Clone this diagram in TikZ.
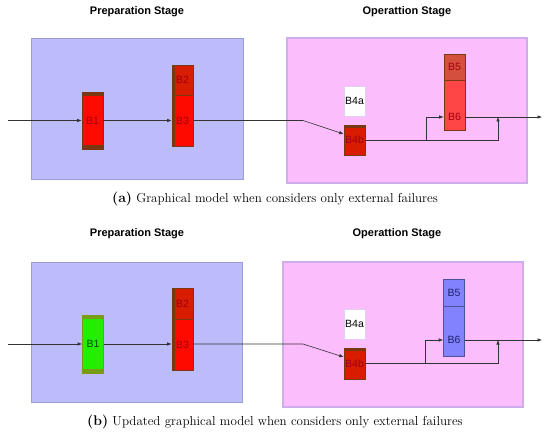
\documentclass[tikz,border=0pt]{standalone}
\usepackage{fontspec}
\setsansfont{Liberation Sans}
\usetikzlibrary{positioning,arrows.meta}

\definecolor{prepfill}{HTML}{BCBCFA}
\definecolor{prepline}{HTML}{9C9CD6}
\definecolor{opfill}{HTML}{FBBDFB}
\definecolor{opline}{HTML}{CDAEEA}
\definecolor{redfill}{HTML}{FF0A00}
\definecolor{darkredfill}{HTML}{D81C00}
\definecolor{brownline}{HTML}{7A3812}
\definecolor{redtext}{HTML}{A00010}
\definecolor{rustfill}{HTML}{D4503C}
\definecolor{pinkred}{HTML}{FF4646}
\definecolor{bluefill}{HTML}{8282FF}
\definecolor{blueline}{HTML}{5050A0}
\definecolor{bluetext}{HTML}{20206A}
\definecolor{greenfill}{HTML}{22EE00}
\definecolor{oliveband}{HTML}{7A9A18}
\definecolor{wirecol}{HTML}{333333}

\begin{document}
\begin{tikzpicture}[x=1pt, y=-1pt,
  stagetitle/.style={font=\sffamily\bfseries\fontsize{11}{13}\selectfont},
  prepbox/.style={draw=prepline, fill=prepfill, line width=0.8pt, inner sep=0pt},
  opbox/.style={draw=opline, fill=opfill, line width=1.5pt, inner sep=0pt},
  blockbox/.style={draw, line width=0.6pt, minimum width=21pt, inner sep=0pt,
    font=\sffamily\fontsize{10.5}{12}\selectfont},
  blocklabel/.style={inner sep=0pt, font=\sffamily\fontsize{10.5}{12}\selectfont},
  wire/.style={draw=wirecol, line width=0.6pt},
  tip/.style={-{Latex[length=4.5pt,width=3.5pt]}},
  caption/.style={font=\rmfamily\fontsize{13}{15}\selectfont}]
  \useasboundingbox (0,0) rectangle (550,436);

  % (a) only external failures
  \node[stagetitle] (a-prept) at (137,12) {Preparation Stage};
  \node[stagetitle] (a-opt) at (407,12) {Operattion Stage};
  \node[prepbox, minimum width=212pt, minimum height=141pt] (a-prep) at (137,108.5) {};
  \node[opbox, minimum width=240pt, minimum height=145pt] (a-op) at (407,110.5) {};

  \node[blockbox, fill=redfill, draw=brownline, minimum height=57pt, text=redtext] (a-b1) at (92.5,120.5) {B1};
  \fill[brownline] (a-b1.north west) rectangle ([yshift=-4pt]a-b1.north east);
  \fill[brownline] (a-b1.south west) rectangle ([yshift=4pt]a-b1.south east);
  \node[blockbox, fill=darkredfill, draw=brownline, minimum height=30pt, text=redtext] (a-b2) at (182.5,80) {B2};
  \node[blockbox, fill=redfill, draw=brownline, minimum height=51pt, text=redtext] (a-b3) at (182.5,120.5) {B3};
  \fill[brownline] (a-b2.north west) rectangle ([xshift=3pt]a-b3.south west);

  \node[blockbox, fill=white, draw=opline!60, minimum height=30pt] (a-b4a) at (354.5,101) {B4a};
  \node[blockbox, fill=darkredfill, draw=brownline, minimum height=30pt, text=redtext] (a-b4b) at (354.5,140) {B4b};
  \fill[brownline] (a-b4b.north west) rectangle ([yshift=-3pt]a-b4b.north east);
  \node[blockbox, fill=rustfill, draw=brownline, minimum height=26pt, text=redtext] (a-b5) at (454.5,67) {B5};
  \node[blockbox, fill=pinkred, draw=brownline, minimum height=50pt] (a-b6) at (454.5,105) {};
  \node[blocklabel, text=redtext] (a-b6t) at (454.5,117) {B6};

  \coordinate (a-in) at (8,120.5);
  \coordinate (a-bend) at (303,120.5);
  \coordinate (a-split) at (426,140);
  \coordinate (a-join) at (498,117);
  \coordinate (a-out) at (542,117);
  \draw[wire, tip] (a-in) -- (a-b1.west);
  \draw[wire, tip] (a-b1) -- (a-b3);
  \draw[wire, tip] (a-b3.east) -- (a-bend) -- ([yshift=6pt]a-b4b.west);
  \draw[wire, tip] (a-b4b.east) -| (a-join);
  \draw[wire, tip] (a-split) |- (a-b6.west |- a-b6t);
  \draw[wire, tip] (a-b6.east |- a-b6t) -- (a-out);

  \node[caption] (a-cap) at (275,199) {{\fontsize{14}{16}\selectfont\bfseries(a)} Graphical model when considers only external failures};

  % (b) updated model
  \node[stagetitle] (b-prept) at (137,234) {Preparation Stage};
  \node[stagetitle] (b-opt) at (397,234) {Operattion Stage};
  \node[prepbox, minimum width=211pt, minimum height=140pt] (b-prep) at (136.5,332) {};
  \node[opbox, minimum width=240pt, minimum height=145pt] (b-op) at (403,334.5) {};

  \node[blockbox, fill=greenfill, draw=oliveband, minimum height=58pt, text=black!70!green] (b-b1) at (93,344) {B1};
  \fill[oliveband] (b-b1.north west) rectangle ([yshift=-4pt]b-b1.north east);
  \fill[oliveband] (b-b1.south west) rectangle ([yshift=4pt]b-b1.south east);
  \node[blockbox, fill=darkredfill, draw=brownline, minimum height=31pt, text=redtext] (b-b2) at (182.5,303.5) {B2};
  \node[blockbox, fill=redfill, draw=brownline, minimum height=51pt, text=redtext] (b-b3) at (182.5,344.5) {B3};
  \fill[brownline] (b-b2.north west) rectangle ([xshift=3pt]b-b3.south west);

  \node[blockbox, fill=white, draw=opline!60, minimum height=30pt] (b-b4a) at (354.5,324) {B4a};
  \node[blockbox, fill=darkredfill, draw=brownline, minimum height=31pt, text=redtext] (b-b4b) at (354.5,363.5) {B4b};
  \fill[brownline] (b-b4b.north west) rectangle ([yshift=-3pt]b-b4b.north east);
  \node[blockbox, fill=bluefill, draw=blueline, minimum height=27pt, text=bluetext] (b-b5) at (454,292.5) {B5};
  \node[blockbox, fill=bluefill, draw=blueline, minimum height=50pt] (b-b6) at (454,331) {};
  \node[blocklabel, text=bluetext] (b-b6t) at (454,340) {B6};

  \coordinate (b-in) at (8,344);
  \coordinate (b-bend) at (303,344);
  \coordinate (b-split) at (425,363.5);
  \coordinate (b-join) at (498,340);
  \coordinate (b-out) at (542,340);
  \draw[wire, tip] (b-in) -- (b-b1.west);
  \draw[wire, tip] (b-b1) -- (b-b3.west |- b-b1);
  \draw[wire, tip] (b-b3.east |- b-b1) -- (b-bend) -- ([yshift=6.5pt]b-b4b.west);
  \draw[wire, tip] (b-b4b.east) -| (b-join);
  \draw[wire, tip] (b-split) |- (b-b6.west |- b-b6t);
  \draw[wire, tip] (b-b6.east |- b-b6t) -- (b-out);

  \node[caption] (b-cap) at (275,422) {{\fontsize{14}{16}\selectfont\bfseries(b)} Updated graphical model when considers only external failures};
\end{tikzpicture}
\end{document}
